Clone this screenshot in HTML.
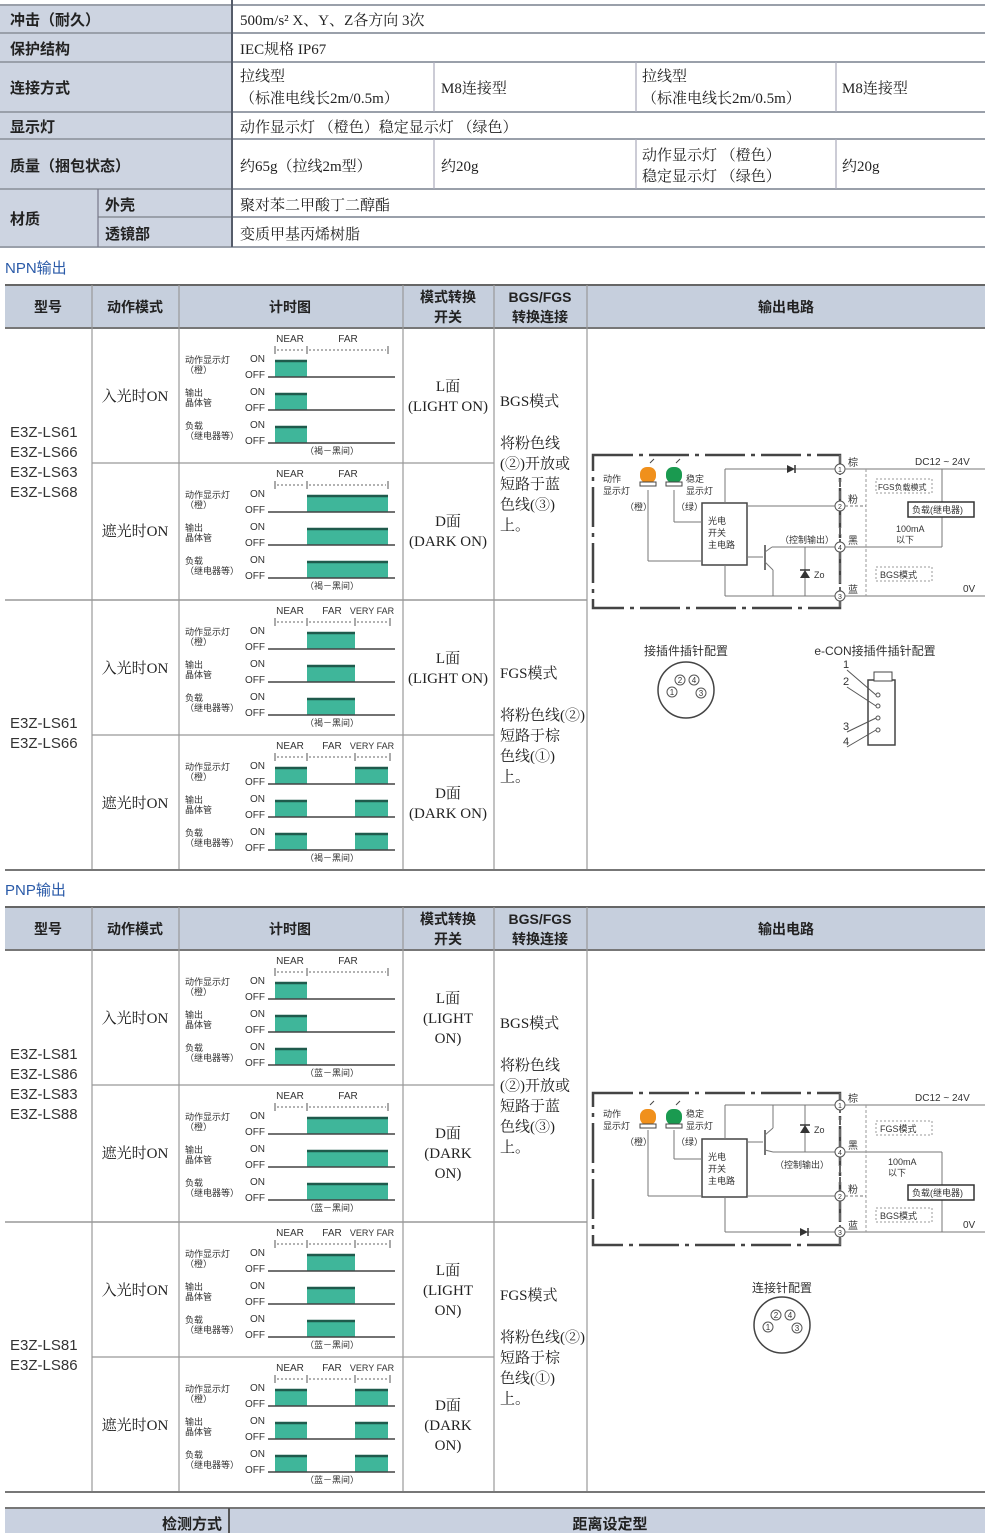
<!DOCTYPE html>
<html><head><meta charset="utf-8">
<style>
html,body{margin:0;padding:0;background:#fff;width:990px;height:1533px;overflow:hidden}
svg{display:block}
.s{font-family:"Liberation Serif","Noto Serif CJK SC",serif;fill:#222}
.b{font-family:"Liberation Sans","Noto Sans CJK SC",sans-serif;fill:#222;font-weight:bold}
.n{font-family:"Liberation Sans","Noto Sans CJK SC",sans-serif;fill:#333}
</style></head><body>
<svg id="g" width="990" height="1533" viewBox="0 0 990 1533" xmlns="http://www.w3.org/2000/svg">
<rect x="0" y="5" width="232" height="242" fill="#cdd4e1"/>
<g stroke="#9aa0aa" stroke-width="2">
<line x1="0" y1="5" x2="985" y2="5"/><line x1="0" y1="33" x2="985" y2="33"/><line x1="0" y1="62" x2="985" y2="62"/>
<line x1="0" y1="112" x2="985" y2="112"/><line x1="0" y1="139" x2="985" y2="139"/><line x1="0" y1="189" x2="985" y2="189"/>
<line x1="98" y1="217" x2="985" y2="217"/><line x1="0" y1="247" x2="985" y2="247"/>
</g>
<g stroke="#aab" stroke-width="1.2">
<line x1="434" y1="62" x2="434" y2="112"/><line x1="636" y1="62" x2="636" y2="112"/><line x1="836" y1="62" x2="836" y2="112"/>
<line x1="434" y1="139" x2="434" y2="189"/><line x1="636" y1="139" x2="636" y2="189"/><line x1="836" y1="139" x2="836" y2="189"/>
<line x1="98" y1="189" x2="98" y2="247" stroke="#778"/>
</g>
<line x1="232" y1="0" x2="232" y2="247" stroke="#555c6a" stroke-width="2"/>
<g class="b" font-size="15">
<text x="10" y="25">冲击（耐久）</text><text x="10" y="54">保护结构</text><text x="10" y="93">连接方式</text>
<text x="10" y="132">显示灯</text><text x="10" y="171">质量（捆包状态）</text><text x="10" y="224">材质</text>
<text x="105" y="210">外壳</text><text x="105" y="239">透镜部</text>
</g>
<g class="s" font-size="15">
<text x="240" y="25">500m/s² X、Y、Z各方向 3次</text><text x="240" y="54">IEC规格 IP67</text>
<text x="240" y="81">拉线型</text><text x="240" y="103">（标准电线长2m/0.5m）</text><text x="441" y="93">M8连接型</text>
<text x="642" y="81">拉线型</text><text x="642" y="103">（标准电线长2m/0.5m）</text><text x="842" y="93">M8连接型</text>
<text x="240" y="132">动作显示灯 （橙色）稳定显示灯 （绿色）</text>
<text x="240" y="171">约65g（拉线2m型）</text><text x="441" y="171">约20g</text>
<text x="642" y="160">动作显示灯 （橙色）</text><text x="642" y="181">稳定显示灯 （绿色）</text><text x="842" y="171">约20g</text>
<text x="240" y="210">聚对苯二甲酸丁二醇酯</text><text x="240" y="239">变质甲基丙烯树脂</text>
</g>
<text x="5" y="273" font-size="15" fill="#2a5aa8" font-family="Liberation Sans,Noto Sans CJK SC,sans-serif">NPN输出</text>
<text x="5" y="895" font-size="15" fill="#2a5aa8" font-family="Liberation Sans,Noto Sans CJK SC,sans-serif">PNP输出</text>
<rect x="5" y="1508" width="980" height="25" fill="#c9d1e0"/>
<line x1="5" y1="1508" x2="985" y2="1508" stroke="#777" stroke-width="2"/>
<line x1="229" y1="1508" x2="229" y2="1533" stroke="#555" stroke-width="2"/>
<text x="222" y="1529" class="b" font-size="15" text-anchor="end">检测方式</text>
<text x="610" y="1529" class="b" font-size="15" text-anchor="middle">距离设定型</text>
</svg>
<script>
var S=document.getElementById('g'),NS='http://www.w3.org/2000/svg';
function el(t,a,txt){var e=document.createElementNS(NS,t);for(var k in a)e.setAttribute(k,a[k]);if(txt!=null)e.textContent=txt;S.appendChild(e);return e;}
function L(x1,y1,x2,y2,c,w,d){var a={x1:x1,y1:y1,x2:x2,y2:y2,stroke:c||'#888','stroke-width':w||1};if(d)a['stroke-dasharray']=d;return el('line',a);}
function T(x,y,s,cls,fs,anc,fill){var a={x:x,y:y,'class':cls||'n','font-size':fs||11};if(anc)a['text-anchor']=anc;if(fill)a.fill=fill;return el('text',a,s);}
function chart(T0,type,pulses,note){
  var far=type=='F';
  T(290,T0+14,'NEAR','n',10,'middle');
  if(far){T(332,T0+14,'FAR','n',10,'middle');T(372,T0+14,'VERY FAR','n',9,'middle');}
  else T(348,T0+14,'FAR','n',10,'middle');
  var ticks=far?[275,307,355,390]:[275,307,388];
  ticks.forEach(function(x){L(x,T0+18,x,T0+26,'#555',1);});
  for(var i=0;i<ticks.length-1;i++)L(ticks[i]+2,T0+22,ticks[i+1]-2,T0+22,'#666',1,'2,2');
  var lab=[['动作显示灯','（橙）'],['输出','晶体管'],['负载','（继电器等）']];
  for(var r=0;r<3;r++){
    var top=T0+34+33*r,base=T0+49+33*r;
    T(185,top+1,lab[r][0],'n',9);T(185,top+11,lab[r][1],'n',9);
    T(250,top,'ON','n',10);T(245,base+1,'OFF','n',10);
    pulses.forEach(function(p){el('rect',{x:p[0],y:top-2,width:p[1]-p[0],height:base-top+2,fill:'#3fb69a'});L(p[0],top-1,p[1],top-1,'#1f5a4c',2.5);});
    L(268,base,395,base,'#444',1.5);
  }
  T(332,T0+126,note,'n',9,'middle');
}
function section(H,note,pnp){
  var R=H+43;
  el('rect',{x:5,y:H,width:980,height:43,fill:'#c6cfdd'});
  L(5,H,985,H,'#666',2);L(5,R,985,R,'#777',2);
  var rows=[R,R+135,R+272,R+407,R+542];
  [92,179,403,494,587].forEach(function(x){L(x,H,x,rows[4],'#999',1.2);});
  L(5,rows[2],587,rows[2],'#999',1.5);L(92,rows[1],494,rows[1],'#999',1.2);L(92,rows[3],494,rows[3],'#999',1.2);
  L(5,rows[4],985,rows[4],'#777',2);
  T(48,H+27,'型号','b',14,'middle');T(135,H+27,'动作模式','b',14,'middle');T(290,H+27,'计时图','b',14,'middle');
  T(448,H+17,'模式转换','b',14,'middle');T(448,H+37,'开关','b',14,'middle');
  T(540,H+17,'BGS/FGS','b',14,'middle');T(540,H+37,'转换连接','b',14,'middle');T(786,H+27,'输出电路','b',14,'middle');
  var m1=pnp?['E3Z-LS81','E3Z-LS86','E3Z-LS83','E3Z-LS88']:['E3Z-LS61','E3Z-LS66','E3Z-LS63','E3Z-LS68'];
  m1.forEach(function(s,i){T(10,R+109+20*i,s,'n',15);});
  T(10,rows[2]+128,m1[0],'n',15);T(10,rows[2]+148,m1[1],'n',15);
  for(var k=0;k<4;k++){var y0=rows[k];T(135,y0+73,k%2?'遮光时ON':'入光时ON','s',15,'middle');}
  chart(rows[0],'N',[[275,307]],note);chart(rows[1],'N',[[307,388]],note);
  chart(rows[2],'F',[[307,355]],note);chart(rows[3],'F',[[275,307],[355,388]],note);
  for(var k=0;k<4;k++){var y0=rows[k],l=k%2?'D面':'L面',m=k%2?'(DARK ON)':'(LIGHT ON)';
    if(pnp){var w=k%2?'(DARK':'(LIGHT';T(448,y0+53,l,'s',15,'middle');T(448,y0+73,w,'s',15,'middle');T(448,y0+93,'ON)','s',15,'middle');}
    else{T(448,y0+63,l,'s',15,'middle');T(448,y0+83,m,'s',15,'middle');}}
  T(500,rows[0]+78,'BGS模式','s',15);
  ['将粉色线','(②)开放或','短路于蓝','色线(③)','上。'].forEach(function(s,i){T(500,rows[0]+120+20.5*i,s,'s',15);});
  T(500,rows[2]+78,'FGS模式','s',15);
  ['将粉色线(②)','短路于棕','色线(①)','上。'].forEach(function(s,i){T(500,rows[2]+120+20.5*i,s,'s',15);});
}
section(285,'（褐－黑间）',false);
section(907,'（蓝－黑间）',true);
function led(x,y,c){el('rect',{x:x,y:y+4,width:16,height:16,rx:7,fill:c});el('rect',{x:x,y:y+19,width:16,height:4,fill:'#fff',stroke:'#444'});L(x+10,y,x+14,y-4,'#444',1);}
function term(x,y,n){el('circle',{cx:x,cy:y,r:5,fill:'#fff',stroke:'#555'});T(x,y+3,n,'n',7,'middle');}
(function(){var c='#777';
 el('rect',{x:593,y:455,width:247,height:153,fill:'none',stroke:'#444','stroke-width':2.5,'stroke-dasharray':'40,6,4,6'});
 L(840,455,840,608,'#666',2,'8,4');
 led(640,463,'#f0901c');led(666,463,'#1a9a50');
 T(603,482,'动作','n',9);T(603,494,'显示灯','n',9);T(686,482,'稳定','n',9);T(686,494,'显示灯','n',9);T(625,510,'（橙）','n',9);T(676,510,'（绿）','n',9);
 el('rect',{x:702,y:503,width:45,height:62,fill:'#fff',stroke:'#444','stroke-width':1.5});
 T(708,524,'光电','n',9);T(708,536,'开关','n',9);T(708,548,'主电路','n',9);
 L(648,490,648,561,c);L(648,561,702,561,c);L(674,490,674,522,c);L(674,522,702,522,c);
 L(725,503,725,469,c);L(725,469,835,469,c);el('path',{d:'M787 465 L787 473 L795 469Z',fill:'#333'});L(795,465,795,473,'#333',1.5);
 L(747,506,835,506,c);L(725,565,725,596,c);L(725,596,835,596,c);
 L(747,557,763,557,c);L(765,545,765,570,'#444',1.5);L(765,552,772,547,c);L(772,547,835,547,c);L(765,562,773,570,c);L(773,570,773,596,c);
 L(805,547,805,596,c);el('path',{d:'M800 578 L810 578 L805 570Z',fill:'#333'});L(800,570,810,570,'#333',1.5);T(814,578,'Zo','n',9);
 T(780,543,'（控制输出）','n',9);
 term(840,469,'1');term(840,506,'2');term(840,547,'4');term(840,596,'3');
 T(848,466,'棕','n',10);T(848,503,'粉','n',10);T(848,544,'黑','n',10);T(848,593,'蓝','n',10);
 L(845,469,985,469,c);L(845,596,985,596,c);L(845,547,942,547,c);L(942,469,942,547,c);L(845,506,866,506,c,1,'3,2');
 L(866,469,866,596,'#999',1,'3,2');
 el('rect',{x:876,y:479,width:56,height:14,fill:'none',stroke:'#999','stroke-dasharray':'2,2'});T(878,490,'FGS负载模式','n',8);
 el('rect',{x:876,y:567,width:56,height:14,fill:'none',stroke:'#999','stroke-dasharray':'2,2'});T(880,578,'BGS模式','n',9);
 el('rect',{x:908,y:502,width:66,height:15,fill:'#fff',stroke:'#333','stroke-width':1.5});T(912,513,'负载(继电器)','n',9);
 T(896,532,'100mA','n',9);T(896,543,'以下','n',9);T(915,465,'DC12 ~ 24V','n',10);T(963,592,'0V','n',10);
 T(686,655,'接插件插针配置','n',12,'middle');el('circle',{cx:686,cy:690,r:28,fill:'#fff',stroke:'#444','stroke-width':1.5});
 [[672,692,'1'],[680,680,'2'],[694,680,'4'],[701,693,'3']].forEach(function(p){el('circle',{cx:p[0],cy:p[1],r:5,fill:'#fff',stroke:'#555'});T(p[0],p[1]+3,p[2],'n',8,'middle');});
 T(875,655,'e-CON接插件插针配置','n',12,'middle');
 el('rect',{x:868,y:680,width:27,height:65,fill:'#fff',stroke:'#444','stroke-width':1.5});el('rect',{x:874,y:672,width:18,height:9,fill:'#fff',stroke:'#444'});
 [['1',668,695],['2',685,706],['3',730,718],['4',745,730]].forEach(function(p){T(843,p[1],p[0],'n',11);L(847,p[1]+2,876,p[2],'#555',1);el('circle',{cx:878,cy:p[2],r:2,fill:'none',stroke:'#555'});});
})();
(function(){var c='#777';
 el('rect',{x:593,y:1093,width:247,height:152,fill:'none',stroke:'#444','stroke-width':2.5,'stroke-dasharray':'40,6,4,6'});
 L(840,1093,840,1245,'#666',2,'8,4');
 led(640,1105,'#f0901c');led(666,1105,'#1a9a50');
 T(603,1117,'动作','n',9);T(603,1129,'显示灯','n',9);T(686,1117,'稳定','n',9);T(686,1129,'显示灯','n',9);T(625,1145,'（橙）','n',9);T(676,1145,'（绿）','n',9);
 el('rect',{x:702,y:1139,width:45,height:58,fill:'#fff',stroke:'#444','stroke-width':1.5});
 T(708,1160,'光电','n',9);T(708,1172,'开关','n',9);T(708,1184,'主电路','n',9);
 L(648,1130,648,1196,c);L(648,1196,702,1196,c);L(674,1130,674,1159,c);L(674,1159,702,1159,c);
 L(725,1139,725,1105,c);L(725,1105,835,1105,c);L(747,1196,835,1196,c);L(725,1197,725,1232,c);L(725,1232,835,1232,c);
 el('path',{d:'M800 1228 L800 1236 L808 1232Z',fill:'#333'});L(808,1228,808,1236,'#333',1.5);
 L(747,1142,763,1142,c);L(765,1130,765,1155,'#444',1.5);L(765,1135,773,1128,c);L(773,1128,773,1105,c);L(765,1150,773,1152,c);L(773,1152,835,1152,c);
 L(805,1105,805,1152,c);el('path',{d:'M800 1133 L810 1133 L805 1125Z',fill:'#333'});L(800,1125,810,1125,'#333',1.5);T(814,1133,'Zo','n',9);
 T(775,1168,'（控制输出）','n',9);
 term(840,1105,'1');term(840,1152,'4');term(840,1196,'2');term(840,1232,'3');
 T(848,1102,'棕','n',10);T(848,1149,'黑','n',10);T(848,1193,'粉','n',10);T(848,1229,'蓝','n',10);
 L(845,1105,985,1105,c);L(845,1232,985,1232,c);L(845,1152,942,1152,c);L(942,1152,942,1232,c);L(845,1196,866,1196,c,1,'3,2');
 L(866,1105,866,1232,'#999',1,'3,2');
 el('rect',{x:876,y:1121,width:56,height:14,fill:'none',stroke:'#999','stroke-dasharray':'2,2'});T(880,1132,'FGS模式','n',9);
 el('rect',{x:876,y:1208,width:56,height:14,fill:'none',stroke:'#999','stroke-dasharray':'2,2'});T(880,1219,'BGS模式','n',9);
 el('rect',{x:908,y:1185,width:66,height:15,fill:'#fff',stroke:'#333','stroke-width':1.5});T(912,1196,'负载(继电器)','n',9);
 T(888,1165,'100mA','n',9);T(888,1176,'以下','n',9);T(915,1101,'DC12 ~ 24V','n',10);T(963,1228,'0V','n',10);
 T(782,1292,'连接针配置','n',12,'middle');el('circle',{cx:782,cy:1325,r:28,fill:'#fff',stroke:'#444','stroke-width':1.5});
 [[768,1327,'1'],[776,1315,'2'],[790,1315,'4'],[797,1328,'3']].forEach(function(p){el('circle',{cx:p[0],cy:p[1],r:5,fill:'#fff',stroke:'#555'});T(p[0],p[1]+3,p[2],'n',8,'middle');});
})();
</script>
</body></html>
